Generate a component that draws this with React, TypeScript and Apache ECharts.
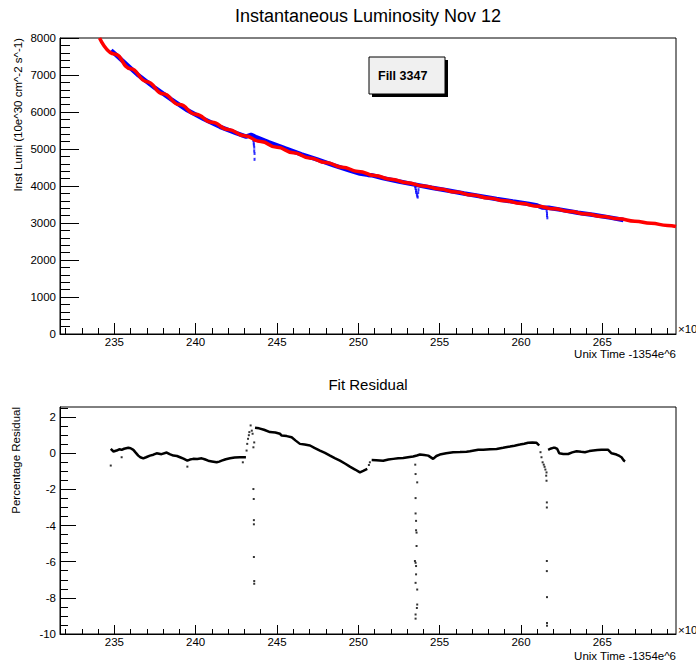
import { useEffect, useRef } from "react";
import * as echarts from "echarts";

const FONT = "'Liberation Sans', Arial, Helvetica, sans-serif";

// ---------- Top panel: instantaneous luminosity ----------
const fitTime = [234.09, 235, 236, 237, 238, 239, 240, 241, 242, 243, 244, 245, 246, 247, 248, 249, 250, 251, 252, 253, 254, 255, 256, 257, 258, 259, 260, 261, 262, 263, 264, 265, 266, 267, 268, 269, 269.53];
const fitLumi = [8000, 7570, 7170, 6820, 6490, 6200, 5940, 5720, 5530, 5360, 5200, 5045, 4900, 4760, 4635, 4510, 4395, 4285, 4185, 4090, 4000, 3920, 3835, 3755, 3678, 3602, 3528, 3455, 3385, 3310, 3242, 3178, 3112, 3050, 2992, 2935, 2905];

const lumiTime = [234.8, 235.5, 236.5, 237.5, 238.5, 239.5, 240.5, 241.5, 242.5, 243.1, 243.4, 243.7, 244.5, 245.5, 246.5, 247.5, 248.5, 249.5, 250.1, 250.6, 250.8, 251.5, 252.5, 253.4, 254.5, 255.5, 256.5, 257.5, 258.5, 259.5, 260.5, 261.0, 261.3, 261.7, 262.5, 263.5, 264.5, 265.5, 266.3];
const lumiValue = [7665, 7385, 6985, 6650, 6340, 6045, 5810, 5600, 5430, 5335, 5380, 5325, 5180, 5017, 4855, 4710, 4560, 4417, 4337, 4300, 4293, 4213, 4123, 4043, 3952, 3880, 3799, 3724, 3649, 3579, 3511, 3474, 3420, 3413, 3354, 3278, 3215, 3145, 3081];

const dipTime = [243.55, 243.57, 243.58, 243.6, 243.6, 243.62, 243.62, 253.5, 253.52, 253.55, 253.55, 253.6, 253.62, 253.65, 253.7, 253.68, 261.55, 261.58, 261.6, 261.6, 261.62];
const dipValue = [5230, 5160, 5110, 5050, 4950, 4880, 4720, 3980, 3930, 3880, 3830, 3780, 3730, 3700, 3900, 3820, 3390, 3330, 3260, 3200, 3140];

// ---------- Bottom panel: fit residual (%) ----------
const resTime = [
  234.78, 234.95, 235.14, 235.3, 235.45, 235.6, 235.86, 236.0, 236.17, 236.3, 236.47, 236.6, 236.78, 236.95, 237.19, 237.4, 237.6, 237.9, 238.22, 238.4, 238.63, 238.85, 239.04, 239.25, 239.49, 239.65, 239.85, 240.1, 240.37, 240.55, 240.77, 241.0, 241.29, 241.45, 241.6, 241.85, 242.11, 242.4, 242.72, 243.09,
  243.4,
  243.65, 243.9, 244.2, 244.57, 244.9, 245.18, 245.29, 245.6, 245.9, 246.15, 246.41, 246.7, 247.03, 247.3, 247.64, 247.95, 248.26, 248.55, 248.87, 249.2, 249.48, 249.8, 250.1, 250.3, 250.55,
  250.7,
  250.82, 251.1, 251.53, 251.85, 252.15, 252.45, 252.76, 253.05, 253.37, 253.6, 253.79, 254.05, 254.3, 254.6, 254.8, 255.01, 255.4, 255.83, 256.25, 256.65, 256.86, 257.37, 257.68, 258.1, 258.5, 258.9, 259.32, 259.6, 259.93, 260.2, 260.44, 260.7, 260.96, 261.12,
  261.4,
  261.67, 261.8, 261.98, 262.1, 262.23, 262.35, 262.6, 262.9, 263.15, 263.42, 263.7, 263.93, 264.2, 264.44, 264.7, 264.95, 265.2, 265.36, 265.57, 265.87, 266.05, 266.18, 266.33, 266.4,
];
const resValue: (number | null)[] = [
  0.24, 0.1, 0.15, 0.22, 0.19, 0.25, 0.3, 0.28, 0.19, 0.05, -0.13, -0.22, -0.28, -0.22, -0.13, -0.08, 0.0, -0.05, 0.04, -0.05, -0.13, -0.15, -0.22, -0.3, -0.41, -0.35, -0.31, -0.32, -0.28, -0.33, -0.41, -0.45, -0.5, -0.46, -0.41, -0.33, -0.28, -0.24, -0.22, -0.22,
  null,
  1.41, 1.38, 1.3, 1.17, 1.15, 1.08, 0.98, 0.95, 0.89, 0.7, 0.52, 0.48, 0.43, 0.3, 0.15, 0.02, -0.13, -0.27, -0.41, -0.58, -0.74, -0.9, -1.06, -0.98, -0.87,
  null,
  -0.37, -0.38, -0.41, -0.34, -0.31, -0.28, -0.26, -0.22, -0.18, -0.12, -0.07, -0.1, -0.13, -0.31, -0.15, -0.07, 0.0, 0.06, 0.07, 0.09, 0.11, 0.2, 0.19, 0.22, 0.24, 0.3, 0.37, 0.42, 0.48, 0.53, 0.58, 0.59, 0.58, 0.43,
  null,
  0.19, 0.25, 0.3, 0.3, 0.24, 0.0, -0.04, -0.04, 0.05, 0.11, 0.08, 0.06, 0.12, 0.15, 0.18, 0.2, 0.2, 0.19, 0.0, -0.07, -0.15, -0.22, -0.41, -0.45,
];

const outTime = [
  234.78, 235.45, 239.49, 242.9,
  243.13, 243.17, 243.22, 243.27, 243.3, 243.38, 243.45, 243.5, 243.55, 243.6,
  243.55, 243.57, 243.58, 243.58, 243.58, 243.6, 243.6,
  250.65, 250.71,
  253.5, 253.52, 253.62, 253.52, 253.52, 253.55, 253.55, 253.58, 253.58, 253.48, 253.52, 253.55, 253.55, 253.52, 253.62, 253.62, 253.6, 253.52, 253.52,
  261.2, 261.26, 261.33, 261.4, 261.45, 261.5, 261.57,
  261.55, 261.57, 261.59, 261.59, 261.59, 261.59, 261.6, 261.6, 261.6,
];
const outValue = [
  -0.68, -0.22, -0.74, -0.5,
  0.15, 0.52, 0.8, 1.0, 1.17, 1.54, 1.25, 1.08, 0.33, 0.6,
  -1.98, -2.53, -3.7, -3.93, -5.74, -7.07, -7.22,
  -0.65, -0.5,
  -0.63, -1.15, -1.61, -2.48, -3.33, -3.74, -4.26, -4.39, -5.13, -5.96, -6.06, -6.24, -6.7, -7.17, -7.54, -8.37, -8.56, -8.92, -9.15,
  0.06, -0.22, -0.5, -0.63, -0.75, -0.9, -1.06,
  -1.24, -1.52, -2.72, -3.0, -5.96, -6.52, -7.96, -9.39, -9.54,
];

// ---------- Axis ticks ----------
const xMin = 231.66;
const xMax = 269.53;
const xMajor = [235, 240, 245, 250, 255, 260, 265];
const xMinor = [232, 233, 234, 236, 237, 238, 239, 241, 242, 243, 244, 246, 247, 248, 249, 251, 252, 253, 254, 256, 257, 258, 259, 261, 262, 263, 264, 266, 267, 268, 269];
const resMajor = [-10, -8, -6, -4, -2, 0, 2];
const resMinor = [-9.5, -9, -8.5, -7.5, -7, -6.5, -5.5, -5, -4.5, -3.5, -3, -2.5, -1.5, -1, -0.5, 0.5, 1, 1.5, 2.5];

const zip = (xs: number[], ys: (number | null)[]) => xs.map((x, i) => [x, ys[i]]);

const black = { color: "#000", width: 1 };
const labelStyle = { fontFamily: FONT, fontSize: 11.5, color: "#000" };

function majorX(gridIndex: number, tickLen: number) {
  return {
    type: "value",
    gridIndex,
    min: xMin,
    max: xMax,
    position: "bottom",
    axisLine: { show: true, onZero: false, lineStyle: black },
    axisTick: { show: true, inside: true, length: tickLen, lineStyle: black, customValues: xMajor },
    axisLabel: { ...labelStyle, margin: 2, customValues: xMajor, formatter: (v: number) => String(v) },
    splitLine: { show: false },
  };
}
function minorX(gridIndex: number, tickLen: number) {
  return {
    type: "value",
    gridIndex,
    min: xMin,
    max: xMax,
    position: "bottom",
    offset: 0,
    axisLine: { show: false, onZero: false },
    axisTick: { show: true, inside: true, length: tickLen, lineStyle: black, customValues: xMinor },
    axisLabel: { show: false },
    splitLine: { show: false },
  };
}

function txt(x: number, y: number, text: string, size: number, align: string, extra: any = {}) {
  const { bold, ...rest } = extra;
  return {
    type: "text",
    x,
    y,
    silent: true,
    ...rest,
    style: {
      text,
      fill: "#000",
      font: `${bold ? "bold " : ""}${size}px ${FONT}`,
      textAlign: align,
      textVerticalAlign: "middle",
      align,
      verticalAlign: "middle",
    },
  };
}

const option: any = {
  animation: false,
  backgroundColor: "#fff",
  grid: [
    { left: 60, top: 38, width: 616, height: 296, show: true, borderColor: "#000", borderWidth: 1, backgroundColor: "transparent" },
    { left: 60, top: 407, width: 616, height: 227, show: true, borderColor: "#000", borderWidth: 1, backgroundColor: "transparent" },
  ],
  xAxis: [majorX(0, 11), minorX(0, 6), majorX(1, 9), minorX(1, 5)],
  yAxis: [
    {
      type: "value",
      gridIndex: 0,
      min: 0,
      max: 8000,
      interval: 1000,
      axisLine: { show: true, onZero: false, lineStyle: black },
      axisTick: { show: true, inside: true, length: 19, lineStyle: black },
      minorTick: { show: true, splitNumber: 5, length: 10, lineStyle: black },
      axisLabel: { ...labelStyle, margin: 4, formatter: (v: number) => String(v) },
      splitLine: { show: false },
    },
    {
      type: "value",
      gridIndex: 1,
      min: -10,
      max: 2.56,
      position: "left",
      axisLine: { show: true, onZero: false, lineStyle: black },
      axisTick: { show: true, inside: true, length: 16, lineStyle: black, customValues: resMajor },
      axisLabel: { ...labelStyle, margin: 4, customValues: resMajor, formatter: (v: number) => String(v) },
      splitLine: { show: false },
    },
    {
      type: "value",
      gridIndex: 1,
      min: -10,
      max: 2.56,
      position: "left",
      offset: 0,
      axisLine: { show: false, onZero: false },
      axisTick: { show: true, inside: true, length: 8, lineStyle: black, customValues: resMinor },
      axisLabel: { show: false },
      splitLine: { show: false },
    },
  ],
  series: [
    {
      type: "line",
      xAxisIndex: 0,
      yAxisIndex: 0,
      data: zip(lumiTime, lumiValue),
      showSymbol: false,
      lineStyle: { color: "#0000ff", width: 4.5 },
      z: 2,
    },
    {
      type: "scatter",
      xAxisIndex: 0,
      yAxisIndex: 0,
      data: zip(dipTime, dipValue),
      symbol: "rect",
      symbolSize: [2, 3],
      itemStyle: { color: "#0000ff" },
      z: 2,
    },
    {
      type: "line",
      xAxisIndex: 0,
      yAxisIndex: 0,
      data: zip(fitTime, fitLumi),
      showSymbol: false,
      smooth: true,
      smoothMonotone: "x",
      lineStyle: { color: "#ff0000", width: 3.5 },
      z: 3,
    },
    {
      type: "line",
      xAxisIndex: 2,
      yAxisIndex: 1,
      data: zip(resTime, resValue),
      showSymbol: false,
      connectNulls: false,
      lineStyle: { color: "#000", width: 2.5 },
      z: 3,
    },
    {
      type: "scatter",
      xAxisIndex: 2,
      yAxisIndex: 1,
      data: zip(outTime, outValue),
      symbol: "rect",
      symbolSize: 2,
      itemStyle: { color: "#000" },
      z: 3,
    },
  ],
  graphic: [
    txt(368, 16, "Instantaneous Luminosity Nov 12", 18, "center"),
    txt(368, 384, "Fit Residual", 15, "center"),
    txt(18, 38, "Inst Lumi (10e^30 cm^-2 s^-1)", 11.5, "right", { rotation: Math.PI / 2 }),
    txt(16, 407, "Percentage Residual", 11.5, "right", { rotation: Math.PI / 2 }),
    txt(676, 354, "Unix Time -1354e^6", 11.5, "right"),
    txt(676, 656, "Unix Time -1354e^6", 11.5, "right"),
    txt(678, 329, "×10³", 11.5, "left"),
    txt(678, 630, "×10³", 11.5, "left"),
    { type: "rect", silent: true, shape: { x: 372, y: 60, width: 76, height: 37 }, style: { fill: "#000" } },
    { type: "rect", silent: true, shape: { x: 369, y: 57, width: 76, height: 37 }, style: { fill: "#f0f0f0", stroke: "#000", lineWidth: 1 } },
    txt(378, 76, "Fill 3347", 12.5, "left", { bold: true }),
  ],
};

export default function App() {
  const ref = useRef<HTMLDivElement>(null);
  useEffect(() => {
    const chart = echarts.init(ref.current!, null, { renderer: "svg" });
    chart.setOption(option);
    return () => chart.dispose();
  }, []);
  return (
    <div
      ref={ref}
      style={{ position: "fixed", left: 0, top: 0, width: 696, height: 664, background: "#fff" }}
    />
  );
}
